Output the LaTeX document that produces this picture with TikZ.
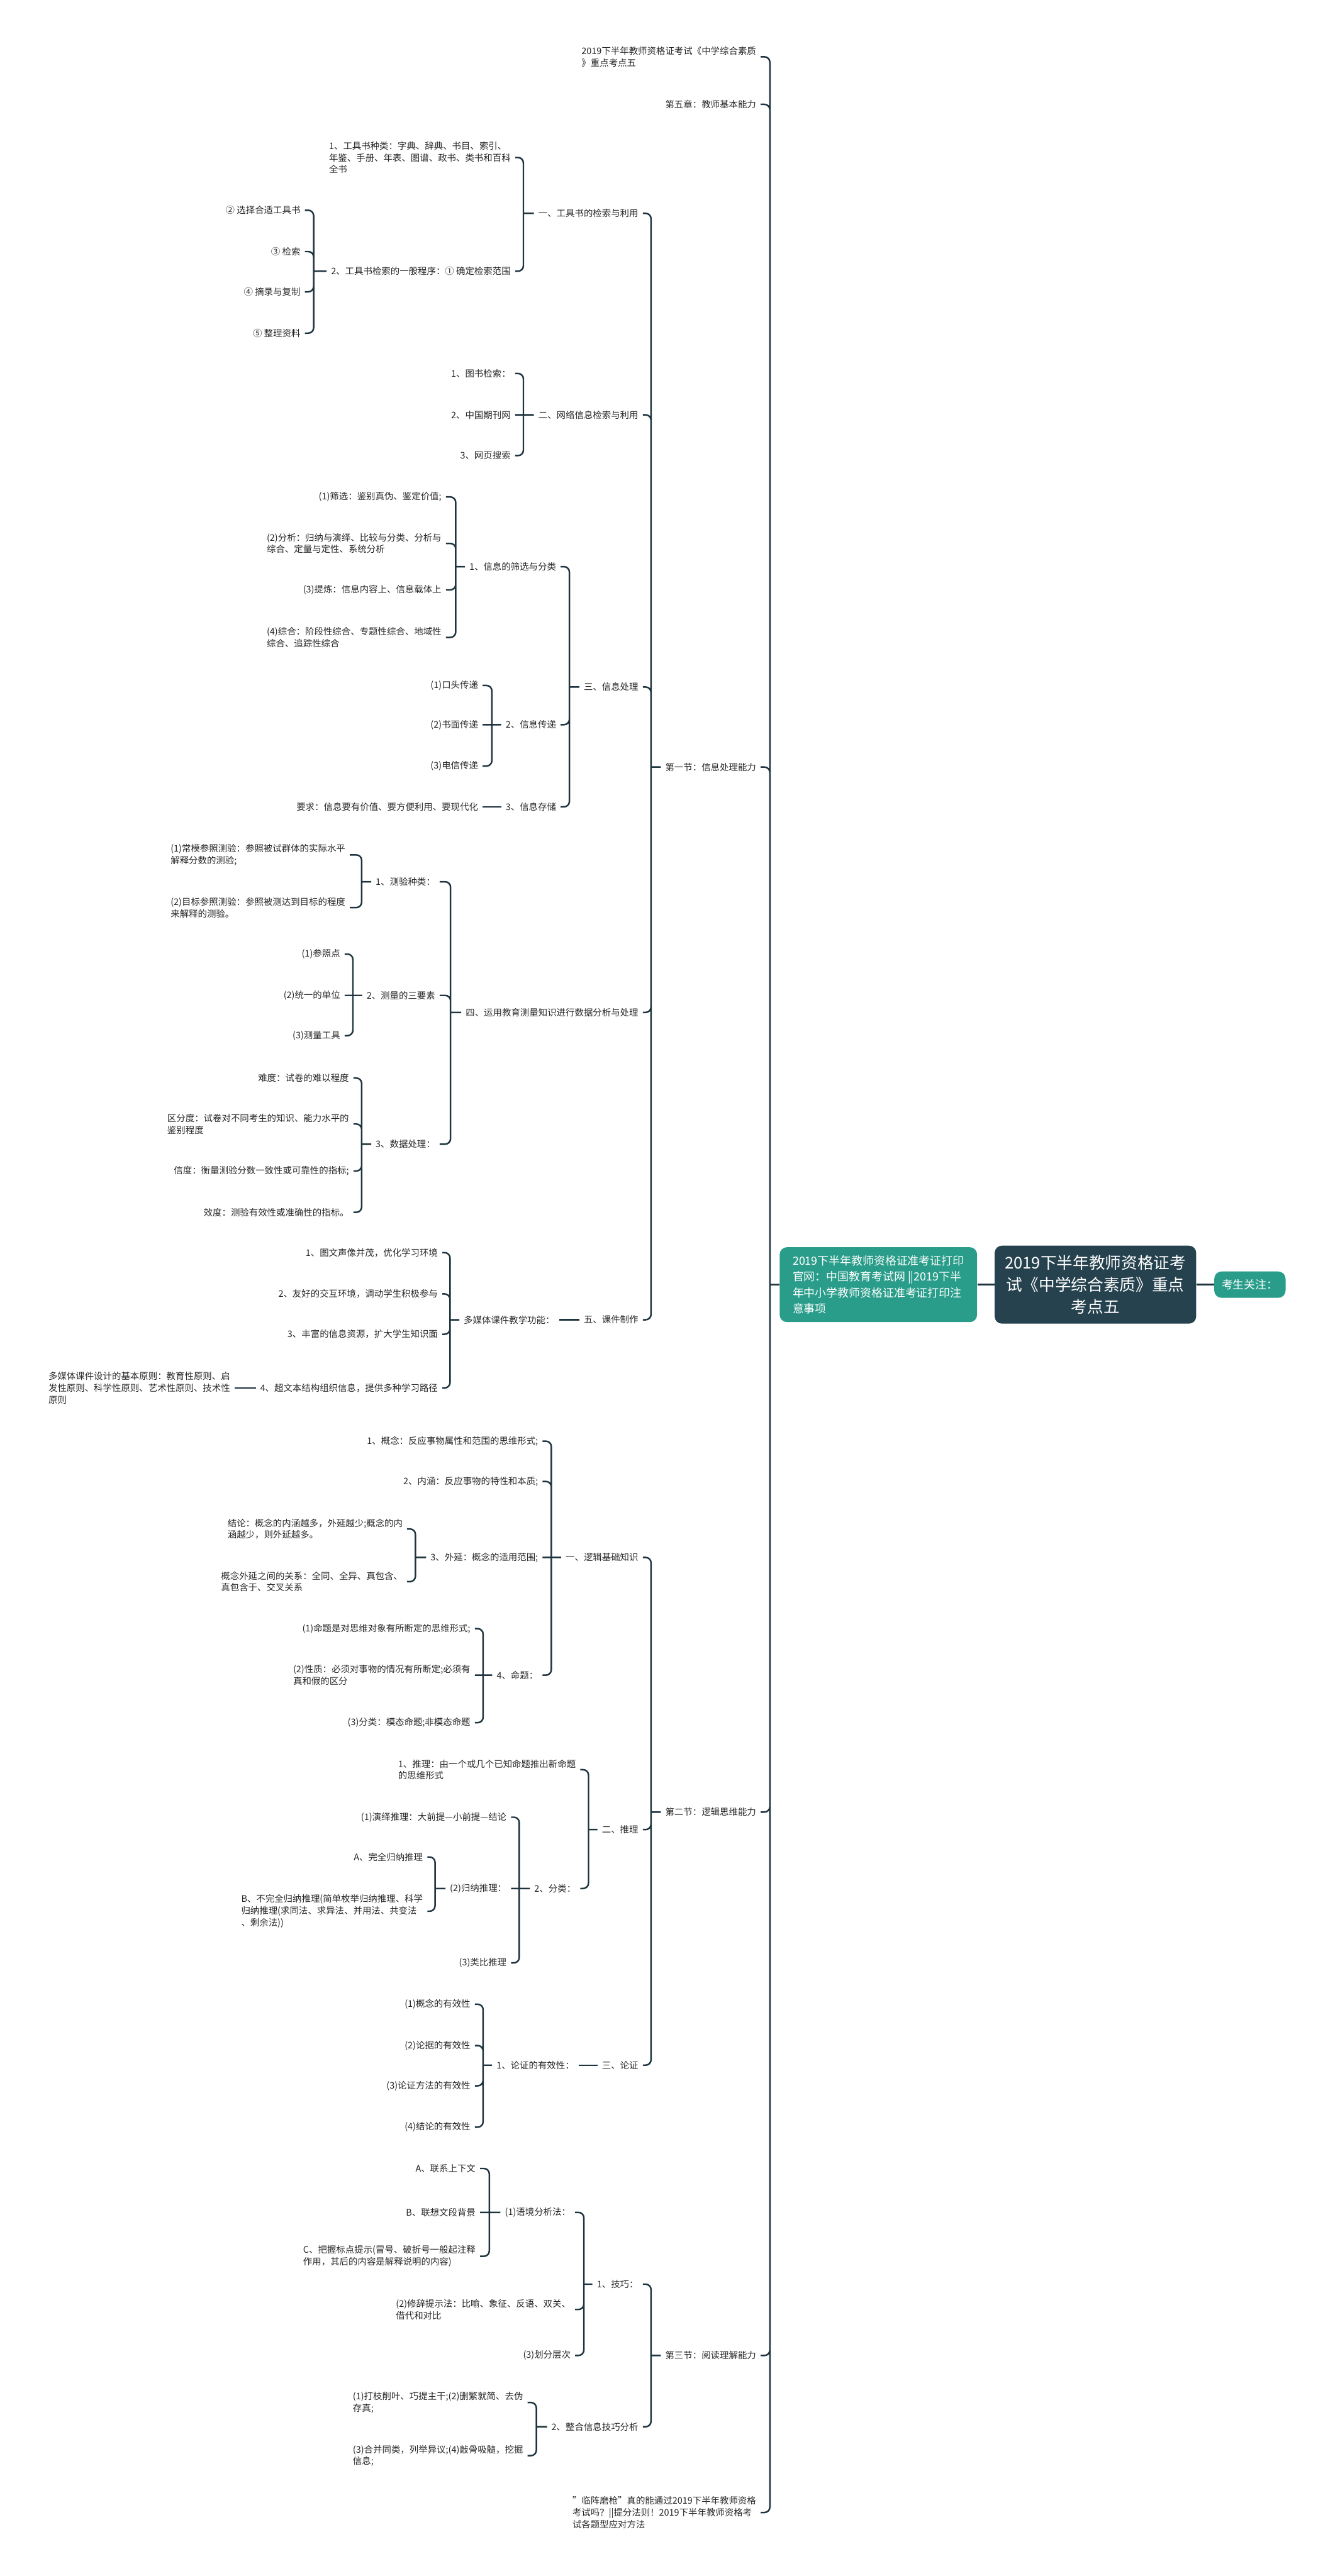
\documentclass[tikz,border=0pt]{standalone}
\usepackage{fontspec}
\setmainfont{Noto Sans CJK SC}
\definecolor{branch}{RGB}{30,52,62}
\definecolor{rootfill}{RGB}{38,66,78}
\definecolor{tagfill}{RGB}{42,157,138}

\begin{document}
\begin{tikzpicture}[x=1cm,y=1cm,
  every node/.style={font=\fontsize{5}{6.5}\selectfont,text=black!85},
  leaf/.style={anchor=east,inner xsep=0.08cm,inner ysep=1pt,align=left},
  link/.style={draw=branch,line width=0.85pt,rounded corners=3pt},
  rootbox/.style={fill=rootfill,text=white,rounded corners=4pt,align=center,
    minimum width=3.9cm,minimum height=1.51cm,font=\fontsize{8.9}{12}\selectfont},
  tagbox/.style={fill=tagfill,text=white,rounded corners=4pt,font=\fontsize{6.2}{8.8}\selectfont}]
\useasboundingbox (0,0) rectangle (25.6,-49.87);

\node[rootbox] (root) at (21.20,-24.87) {2019下半年教师资格证考\\试《中学综合素质》重点\\考点五};
\node[tagbox,align=left,minimum width=3.82cm,minimum height=1.45cm] (notice) at (17.00,-24.87)
  {2019下半年教师资格证准考证打印\\官网：中国教育考试网 ||2019下半\\年中小学教师资格证准考证打印注\\意事项};
\node[tagbox,minimum width=1.38cm,minimum height=0.51cm] (focus) at (24.19,-24.87) {考生关注：};

\node[leaf] (title) at (14.72,-1.10) {2019下半年教师资格证考试《中学综合素质\\》重点考点五};
\node[leaf] (chap) at (14.72,-2.02) {第五章：教师基本能力};
\node[leaf] (info) at (14.72,-14.85) {第一节：信息处理能力};
\node[leaf] (logic) at (14.72,-35.08) {第二节：逻辑思维能力};
\node[leaf] (read) at (14.72,-45.60) {第三节：阅读理解能力};
\node[leaf] (tips) at (14.72,-48.64) {"临阵磨枪"真的能通过2019下半年教师资格\\考试吗？||提分法则！2019下半年教师资格考\\试各题型应对方法};

\node[leaf] (tool) at (12.44,-4.13) {一、工具书的检索与利用};
\node[leaf] (net) at (12.44,-8.03) {二、网络信息检索与利用};
\node[leaf] (proc) at (12.44,-13.30) {三、信息处理};
\node[leaf] (meas) at (12.44,-19.60) {四、运用教育测量知识进行数据分析与处理};
\node[leaf] (ware) at (12.44,-25.55) {五、课件制作};

\node[leaf] (toolkind) at (9.97,-3.05) {1、工具书种类：字典、辞典、书目、索引、\\年鉴、手册、年表、图谱、政书、类书和百科\\全书};
\node[leaf] (toolstep) at (9.97,-5.25) {2、工具书检索的一般程序：① 确定检索范围};
\node[leaf] (step2) at (5.90,-4.07) {② 选择合适工具书};
\node[leaf] (step3) at (5.90,-4.87) {③ 检索};
\node[leaf] (step4) at (5.90,-5.65) {④ 摘录与复制};
\node[leaf] (step5) at (5.90,-6.45) {⑤ 整理资料};

\node[leaf] (net1) at (9.97,-7.23) {1、图书检索：};
\node[leaf] (net2) at (9.97,-8.03) {2、中国期刊网};
\node[leaf] (net3) at (9.97,-8.82) {3、网页搜索};

\node[leaf] (sift) at (10.85,-10.97) {1、信息的筛选与分类};
\node[leaf] (pass) at (10.85,-14.03) {2、信息传递};
\node[leaf] (store) at (10.85,-15.62) {3、信息存储};
\node[leaf] (sift1) at (8.63,-9.62) {(1)筛选：鉴别真伪、鉴定价值;};
\node[leaf] (sift2) at (8.63,-10.52) {(2)分析：归纳与演绎、比较与分类、分析与\\综合、定量与定性、系统分析};
\node[leaf] (sift3) at (8.63,-11.42) {(3)提炼：信息内容上、信息载体上};
\node[leaf] (sift4) at (8.63,-12.34) {(4)综合：阶段性综合、专题性综合、地域性\\综合、追踪性综合};
\node[leaf] (pass1) at (9.34,-13.27) {(1)口头传递};
\node[leaf] (pass2) at (9.34,-14.03) {(2)书面传递};
\node[leaf] (pass3) at (9.34,-14.83) {(3)电信传递};
\node[leaf] (store1) at (9.34,-15.62) {要求：信息要有价值、要方便利用、要现代化};

\node[leaf] (test) at (8.51,-17.07) {1、测验种类：};
\node[leaf] (three) at (8.51,-19.27) {2、测量的三要素};
\node[leaf] (data) at (8.51,-22.15) {3、数据处理：};
\node[leaf] (test1) at (6.77,-16.55) {(1)常模参照测验：参照被试群体的实际水平\\解释分数的测验;};
\node[leaf] (test2) at (6.77,-17.57) {(2)目标参照测验：参照被测达到目标的程度\\来解释的测验。};
\node[leaf] (three1) at (6.67,-18.47) {(1)参照点};
\node[leaf] (three2) at (6.67,-19.27) {(2)统一的单位};
\node[leaf] (three3) at (6.67,-20.05) {(3)测量工具};
\node[leaf] (data1) at (6.84,-20.87) {难度：试卷的难以程度};
\node[leaf] (data2) at (6.84,-21.76) {区分度：试卷对不同考生的知识、能力水平的\\鉴别程度};
\node[leaf] (data3) at (6.84,-22.67) {信度：衡量测验分数一致性或可靠性的指标;};
\node[leaf] (data4) at (6.84,-23.47) {效度：测验有效性或准确性的指标。};

\node[leaf] (media) at (10.82,-25.55) {多媒体课件教学功能：};
\node[leaf] (media1) at (8.56,-24.25) {1、图文声像并茂，优化学习环境};
\node[leaf] (media2) at (8.56,-25.05) {2、友好的交互环境，调动学生积极参与};
\node[leaf] (media3) at (8.56,-25.83) {3、丰富的信息资源，扩大学生知识面};
\node[leaf] (media4) at (8.56,-26.87) {4、超文本结构组织信息，提供多种学习路径};
\node[leaf] (rule) at (4.54,-26.87) {多媒体课件设计的基本原则：教育性原则、启\\发性原则、科学性原则、艺术性原则、技术性\\原则};

\node[leaf] (base) at (12.44,-30.15) {一、逻辑基础知识};
\node[leaf] (infer) at (12.44,-35.42) {二、推理};
\node[leaf] (argue) at (12.44,-39.98) {三、论证};

\node[leaf] (con) at (10.50,-27.90) {1、概念：反应事物属性和范围的思维形式;};
\node[leaf] (inten) at (10.50,-28.68) {2、内涵：反应事物的特性和本质;};
\node[leaf] (exten) at (10.50,-30.15) {3、外延：概念的适用范围;};
\node[leaf] (prop) at (10.50,-32.43) {4、命题：};
\node[leaf] (exten1) at (7.88,-29.60) {结论：概念的内涵越多，外延越少;概念的内\\涵越少，则外延越多。};
\node[leaf] (exten2) at (7.88,-30.62) {概念外延之间的关系：全同、全异、真包含、\\真包含于、交叉关系};
\node[leaf] (prop1) at (9.19,-31.53) {(1)命题是对思维对象有所断定的思维形式;};
\node[leaf] (prop2) at (9.19,-32.43) {(2)性质：必须对事物的情况有所断定;必须有\\真和假的区分};
\node[leaf] (prop3) at (9.19,-33.35) {(3)分类：模态命题;非模态命题};

\node[leaf] (infdef) at (11.23,-34.26) {1、推理：由一个或几个已知命题推出新命题\\的思维形式};
\node[leaf] (inftype) at (11.23,-36.56) {2、分类：};
\node[leaf] (deduc) at (9.89,-35.18) {(1)演绎推理：大前提—小前提—结论};
\node[leaf] (induc) at (9.89,-36.56) {(2)归纳推理：};
\node[leaf] (analog) at (9.89,-38.00) {(3)类比推理};
\node[leaf] (induc1) at (8.27,-35.95) {A、完全归纳推理};
\node[leaf] (induc2) at (8.27,-37.00) {B、不完全归纳推理(简单枚举归纳推理、科学\\归纳推理(求同法、求异法、并用法、共变法\\、剩余法))};

\node[leaf] (valid) at (11.20,-39.98) {1、论证的有效性：};
\node[leaf] (valid1) at (9.19,-38.80) {(1)概念的有效性};
\node[leaf] (valid2) at (9.19,-39.60) {(2)论据的有效性};
\node[leaf] (valid3) at (9.19,-40.38) {(3)论证方法的有效性};
\node[leaf] (valid4) at (9.19,-41.18) {(4)结论的有效性};

\node[leaf] (skill) at (12.44,-44.22) {1、技巧：};
\node[leaf] (merge) at (12.44,-46.98) {2、整合信息技巧分析};
\node[leaf] (ctx) at (11.13,-42.83) {(1)语境分析法：};
\node[leaf] (rhet) at (11.13,-44.71) {(2)修辞提示法：比喻、象征、反语、双关、\\借代和对比};
\node[leaf] (layer) at (11.13,-45.60) {(3)划分层次};
\node[leaf] (ctx1) at (9.29,-41.98) {A、联系上下文};
\node[leaf] (ctx2) at (9.29,-42.83) {B、联想文段背景};
\node[leaf] (ctx3) at (9.29,-43.68) {C、把握标点提示(冒号、破折号一般起注释\\作用，其后的内容是解释说明的内容)};
\node[leaf] (merge1) at (10.21,-46.51) {(1)打枝削叶、巧提主干;(2)删繁就简、去伪\\存真;};
\node[leaf] (merge2) at (10.21,-47.54) {(3)合并同类，列举异议;(4)敲骨吸髓，挖掘\\信息;};

\draw[link,line width=1.1pt] (root.west) -- (notice.east) (root.east) -- (focus.west);
\draw[link] (notice.west) -- (notice.west -| 14.90,0) coordinate (spine)
  (spine) |- (title.east) (spine) |- (chap.east) (spine) |- (info.east)
  (spine) |- (logic.east) (spine) |- (read.east) (spine) |- (tips.east);

\draw[link] (info.west) -- (info.west -| 12.60,0) coordinate (infoj)
  (infoj) |- (tool.east) (infoj) |- (net.east) (infoj) |- (proc.east) (infoj) |- (meas.east) (infoj) |- (ware.east);
\draw[link] (tool.west) -- (tool.west -| 10.13,0) coordinate (toolj)
  (toolj) |- (toolkind.east) (toolj) |- (toolstep.east);
\draw[link] (toolstep.west) -- (toolstep.west -| 6.07,0) coordinate (stepj)
  (stepj) |- (step2.east) (stepj) |- (step3.east) (stepj) |- (step4.east) (stepj) |- (step5.east);
\draw[link] (net.west) -- (net.west -| 10.13,0) coordinate (netj)
  (netj) |- (net1.east) (netj) -- (net2.east) (netj) |- (net3.east);
\draw[link] (proc.west) -- (proc.west -| 11.02,0) coordinate (procj)
  (procj) |- (sift.east) (procj) |- (pass.east) (procj) |- (store.east);
\draw[link] (sift.west) -- (sift.west -| 8.82,0) coordinate (siftj)
  (siftj) |- (sift1.east) (siftj) |- (sift2.east) (siftj) |- (sift3.east) (siftj) |- (sift4.east);
\draw[link] (pass.west) -- (pass.west -| 9.52,0) coordinate (passj)
  (passj) |- (pass1.east) (passj) -- (pass2.east) (passj) |- (pass3.east);
\draw[link] (store.west) -- (store1.east);
\draw[link] (meas.west) -- (meas.west -| 8.72,0) coordinate (measj)
  (measj) |- (test.east) (measj) |- (three.east) (measj) |- (data.east);
\draw[link] (test.west) -- (test.west -| 7.00,0) coordinate (testj)
  (testj) |- (test1.east) (testj) |- (test2.east);
\draw[link] (three.west) -- (three.west -| 6.83,0) coordinate (threej)
  (threej) |- (three1.east) (threej) -- (three2.east) (threej) |- (three3.east);
\draw[link] (data.west) -- (data.west -| 7.00,0) coordinate (dataj)
  (dataj) |- (data1.east) (dataj) |- (data2.east) (dataj) |- (data3.east) (dataj) |- (data4.east);
\draw[link] (ware.west) -- (media.east);
\draw[link] (media.west) -- (media.west -| 8.71,0) coordinate (mediaj)
  (mediaj) |- (media1.east) (mediaj) |- (media2.east) (mediaj) |- (media3.east) (mediaj) |- (media4.east);
\draw[link] (media4.west) -- (rule.east);

\draw[link] (logic.west) -- (logic.west -| 12.60,0) coordinate (logicj)
  (logicj) |- (base.east) (logicj) |- (infer.east) (logicj) |- (argue.east);
\draw[link] (base.west) -- (base.west -| 10.67,0) coordinate (basej)
  (basej) |- (con.east) (basej) |- (inten.east) (basej) -- (exten.east) (basej) |- (prop.east);
\draw[link] (exten.west) -- (exten.west -| 8.04,0) coordinate (extenj)
  (extenj) |- (exten1.east) (extenj) |- (exten2.east);
\draw[link] (prop.west) -- (prop.west -| 9.35,0) coordinate (propj)
  (propj) |- (prop1.east) (propj) -- (prop2.east) (propj) |- (prop3.east);
\draw[link] (infer.west) -- (infer.west -| 11.39,0) coordinate (inferj)
  (inferj) |- (infdef.east) (inferj) |- (inftype.east);
\draw[link] (inftype.west) -- (inftype.west -| 10.05,0) coordinate (typej)
  (typej) |- (deduc.east) (typej) -- (induc.east) (typej) |- (analog.east);
\draw[link] (induc.west) -- (induc.west -| 8.42,0) coordinate (inducj)
  (inducj) |- (induc1.east) (inducj) |- (induc2.east);
\draw[link] (argue.west) -- (valid.east);
\draw[link] (valid.west) -- (valid.west -| 9.35,0) coordinate (validj)
  (validj) |- (valid1.east) (validj) |- (valid2.east) (validj) |- (valid3.east) (validj) |- (valid4.east);

\draw[link] (read.west) -- (read.west -| 12.60,0) coordinate (readj)
  (readj) |- (skill.east) (readj) |- (merge.east);
\draw[link] (skill.west) -- (skill.west -| 11.30,0) coordinate (skillj)
  (skillj) |- (ctx.east) (skillj) |- (rhet.east) (skillj) |- (layer.east);
\draw[link] (ctx.west) -- (ctx.west -| 9.47,0) coordinate (ctxj)
  (ctxj) |- (ctx1.east) (ctxj) -- (ctx2.east) (ctxj) |- (ctx3.east);
\draw[link] (merge.west) -- (merge.west -| 10.38,0) coordinate (mergej)
  (mergej) |- (merge1.east) (mergej) |- (merge2.east);
\end{tikzpicture}
\end{document}
